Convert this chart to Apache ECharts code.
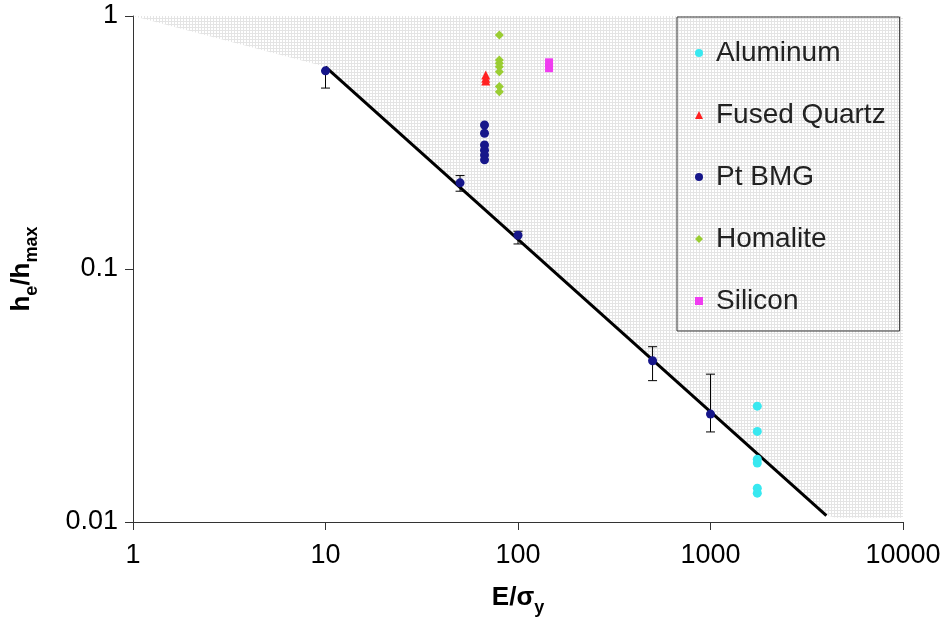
<!DOCTYPE html>
<html><head><meta charset="utf-8">
<script src="https://cdn.jsdelivr.net/npm/echarts@6/dist/echarts.min.js"></script>
<style>html,body{margin:0;padding:0;background:#fff}#c{width:948px;height:630px}</style>
</head><body><div id="c"></div>
<script>
// ---- data ----
const xTicks = [1, 10, 100, 1000, 10000];
const yTicks = [0.01, 0.1, 1];
const seriesNames = ['Aluminum', 'Fused Quartz', 'Pt BMG', 'Homalite', 'Silicon'];
const aluminumX = [1750, 1750, 1750, 1750, 1750, 1750];
const aluminumY = [0.0287, 0.0228, 0.0177, 0.0171, 0.0136, 0.0130];
const quartzX = [68, 68, 68];
const quartzY = [0.584, 0.568, 0.553];
const ptX = [10, 50, 100, 500, 1000, 67, 67, 67, 67, 67, 67];
const ptY = [0.607, 0.219, 0.136, 0.0434, 0.0267, 0.371, 0.344, 0.309, 0.295, 0.282, 0.270];
const ptErrX = [10, 50, 100, 500, 1000];
const ptErrLow = [0.519, 0.203, 0.1256, 0.0362, 0.0227];
const ptErrHigh = [0.607, 0.234, 0.141, 0.0493, 0.0384];
const homaliteX = [80, 80, 80, 80, 80, 80, 80];
const homaliteY = [0.841, 0.670, 0.650, 0.630, 0.602, 0.526, 0.502];
const siliconX = [145, 145];
const siliconY = [0.656, 0.622];
const fitX = [10, 4000];
const fitY = [0.63, 0.0106];
const regionX = [1, 10, 4000, 4500, 10000, 10000];
const regionY = [1, 0.63, 0.0106, 0.0104, 0.0104, 1];

const zip = (a, b) => a.map((v, i) => [v, b[i]]);

// stipple pattern
const pc = document.createElement('canvas');
pc.width = 3; pc.height = 3;
const g = pc.getContext('2d');
g.fillStyle = '#ffffff'; g.fillRect(0, 0, 3, 3);
g.fillStyle = '#e4e4e4'; g.fillRect(0, 0, 3, 1); g.fillRect(0, 0, 1, 3);

const FONT = 'Liberation Sans';
const chart = echarts.init(document.getElementById('c'), null, {renderer: 'canvas'});
const nameRich = {
  a: {fontSize: 26, fontWeight: 'bold', fontFamily: FONT, color: '#000', lineHeight: 32, verticalAlign: 'top'},
  s: {fontSize: 18, fontWeight: 'bold', fontFamily: FONT, color: '#000', lineHeight: 22, verticalAlign: 'bottom'}
};
chart.setOption({
  animation: false,
  backgroundColor: '#fff',
  textStyle: {fontFamily: FONT},
  grid: {left: 133, right: 45, top: 16, bottom: 108},
  legend: {
    orient: 'vertical', left: 677, top: 17,
    padding: [21, 14, 15, 18],
    itemWidth: 8, itemHeight: 8, itemGap: 32,
    symbolKeepAspect: true,
    borderColor: '#333', borderWidth: 1,
    backgroundColor: 'transparent',
    textStyle: {fontSize: 28, color: '#222', fontFamily: FONT, lineHeight: 30, padding: [0, 0, 0, 8]},
    data: seriesNames
  },
  xAxis: {
    type: 'log', logBase: 10, min: xTicks[0], max: xTicks[xTicks.length - 1],
    splitLine: {show: false},
    axisLine: {lineStyle: {color: '#333', width: 1}},
    axisTick: {length: 8, lineStyle: {color: '#333'}},
    axisLabel: {fontSize: 27, color: '#000', margin: 20, formatter: v => String(v)},
    name: '{a|E/σ}{s|y}', nameLocation: 'middle', nameGap: 63,
    nameTextStyle: {rich: nameRich}
  },
  yAxis: {
    type: 'log', logBase: 10, min: yTicks[0], max: yTicks[yTicks.length - 1],
    splitLine: {show: false},
    axisLine: {lineStyle: {color: '#333', width: 1}},
    axisTick: {length: 8, lineStyle: {color: '#333'}},
    axisLabel: {fontSize: 27, color: '#000', margin: 15, formatter: v => String(+v.toPrecision(3))},
    name: '{a|h}{s|e}{a|/h}{s|max}', nameLocation: 'middle', nameGap: 92, nameRotate: 90,
    nameTextStyle: {rich: nameRich}
  },
  series: [
    {
      type: 'custom', name: 'region', silent: true, z: 1,
      data: [[regionX[0], regionY[0]]],
      renderItem: (params, api) => {
        const pts = regionX.map((x, i) => api.coord([x, regionY[i]]));
        return {type: 'polygon', shape: {points: pts}, style: {fill: {image: pc, repeat: 'repeat'}, stroke: null}};
      }
    },
    {
      type: 'line', name: 'fit', data: zip(fitX, fitY), symbol: 'none', z: 3,
      lineStyle: {color: '#000', width: 3}, silent: true
    },
    {
      type: 'custom', name: 'err', silent: true, z: 4,
      data: ptErrX.map((x, i) => [x, ptErrLow[i], ptErrHigh[i]]),
      encode: {x: 0, y: [1, 2]},
      renderItem: (params, api) => {
        const x = api.value(0);
        const lo = api.coord([x, api.value(1)]);
        const hi = api.coord([x, api.value(2)]);
        const hw = 4.5;
        const st = {stroke: '#000', lineWidth: 1};
        return {type: 'group', children: [
          {type: 'line', shape: {x1: lo[0], y1: lo[1], x2: hi[0], y2: hi[1]}, style: st},
          {type: 'line', shape: {x1: lo[0] - hw, y1: lo[1], x2: lo[0] + hw, y2: lo[1]}, style: st},
          {type: 'line', shape: {x1: hi[0] - hw, y1: hi[1], x2: hi[0] + hw, y2: hi[1]}, style: st}
        ]};
      }
    },
    {type: 'scatter', name: 'Aluminum', data: zip(aluminumX, aluminumY), symbol: 'circle', symbolSize: 9, z: 5, itemStyle: {color: '#38e8f0', opacity: 1}},
    {type: 'scatter', name: 'Fused Quartz', data: zip(quartzX, quartzY), symbol: 'triangle', symbolSize: 9, z: 5, itemStyle: {color: '#ff2020', opacity: 1}},
    {type: 'scatter', name: 'Pt BMG', data: zip(ptX, ptY), symbol: 'circle', symbolSize: 9, z: 5, itemStyle: {color: '#16168a', opacity: 1}},
    {type: 'scatter', name: 'Homalite', data: zip(homaliteX, homaliteY), symbol: 'diamond', symbolSize: 9, z: 5, itemStyle: {color: '#9acd32', opacity: 1}},
    {type: 'scatter', name: 'Silicon', data: zip(siliconX, siliconY), symbol: 'rect', symbolSize: 8, z: 5, itemStyle: {color: '#f03cf0', opacity: 1}}
  ]
});
</script>
</body></html>
